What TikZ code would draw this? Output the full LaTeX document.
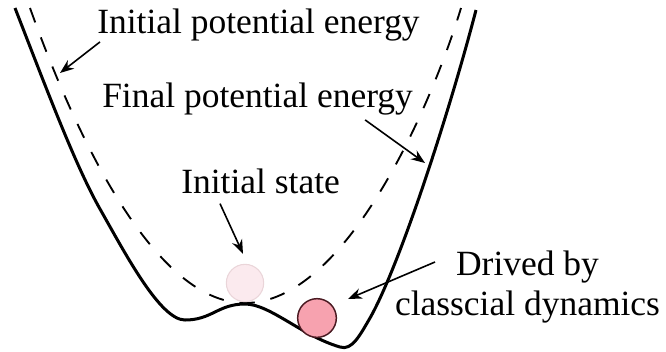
\documentclass[tikz,border=0pt]{standalone}
\usepackage{fontspec}
\setmainfont{Liberation Serif}
\usepackage{tikz}
\usetikzlibrary{arrows.meta}
\usepackage{xcolor}
\definecolor{PaleBall}{HTML}{FBEAEE}
\definecolor{PaleEdge}{HTML}{EAD5D9}
\definecolor{RoseBall}{HTML}{F7A2AF}
\definecolor{RoseEdge}{HTML}{4A1A22}

\begin{document}
\begin{tikzpicture}[
    x=0.75pt, y=-0.75pt,
    every node/.style={font=\fontsize{26.6pt}{30pt}\selectfont, inner sep=0pt},
    finalwell/.style={line width=2.25pt, black, line join=round},
    initwell/.style={line width=1.4pt, black, dash pattern=on 11.5pt off 12pt},
    pointer/.style={line width=1.2pt, -{Stealth[length=10.5pt, width=8pt]}}
]
\useasboundingbox (0,0) rectangle (666,351);

% === Initial potential energy (dashed) ===
\draw[initwell] (30,8) .. controls (70,120) and (150,303) .. (245,303)
    .. controls (345,303) and (430,110) .. (461,8);

% === Final potential energy (solid, double well) ===
\draw[finalwell] (15,8) .. controls (45,85) and (75,165) .. (100,209)
    .. controls (125,253) and (160,320) .. (185,320)
    .. controls (212,320) and (218,304) .. (245,304)
    .. controls (270,304) and (302,336) .. (340,347)
    .. controls (352,351) and (360,335) .. (370,318)
    .. controls (400,265) and (450,110) .. (476,10);

% Balls
\node[circle, draw=PaleEdge, fill=PaleBall, line width=0.8pt, minimum size=28pt] (ball0) at (245,283) {};
\node[circle, draw=RoseEdge, fill=RoseBall, line width=1.1pt, minimum size=29pt] (ball1) at (317,318) {};

% Labels
\node[anchor=base west] (initpot) at (97,33) {Initial potential energy};
\node[anchor=base west] (finalpot) at (102,107) {Final potential energy};
\node[anchor=base west] (initstate) at (181,193) {Initial state};
\node[anchor=base, align=center] (drived) at (527.5,315) {Drived by\\classcial dynamics};

% Arrow tips on the curves
\coordinate (initpot-tip) at (60,73);
\coordinate (finalpot-tip) at (425,163);

% Arrows
\draw[pointer] ([shift={(3,1)}]initpot.south west) -- (initpot-tip);
\draw[pointer] ([shift={(-48,5)}]finalpot.south east) -- (finalpot-tip);
\draw[pointer] ([shift={(39,10)}]initstate.south west) -- ([shift={(-2,-10)}]ball0.north);
\draw[pointer] ([shift={(-92.5,-53)}]drived.base) -- ([shift={(31,-19)}]ball1.center);

\end{tikzpicture}
\end{document}
